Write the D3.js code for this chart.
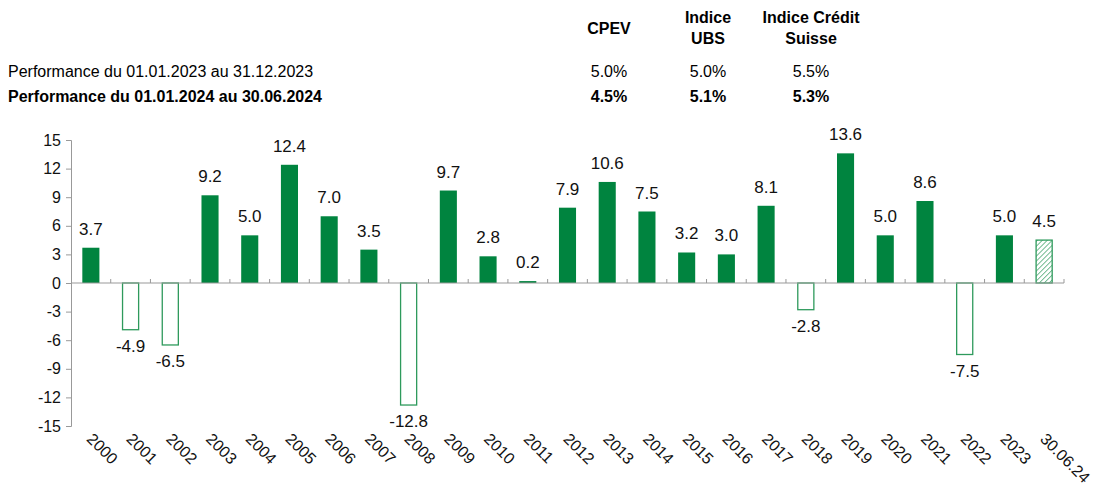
<!DOCTYPE html>
<html>
<head>
<meta charset="utf-8">
<script src="https://cdn.jsdelivr.net/npm/d3@7"></script>
<style>
  body { margin: 0; background: #fff; }
  svg { font-family: "Liberation Sans", Arial, sans-serif; }
</style>
</head>
<body>
<div id="chart"></div>
<script>
var width = 1094, height = 488;

// data
var years = ["2000","2001","2002","2003","2004","2005","2006","2007","2008","2009","2010","2011",
  "2012","2013","2014","2015","2016","2017","2018","2019","2020","2021","2022","2023","30.06.24"];
var perf = [3.7,-4.9,-6.5,9.2,5.0,12.4,7.0,3.5,-12.8,9.7,2.8,0.2,7.9,10.6,7.5,3.2,3.0,8.1,-2.8,13.6,5.0,8.6,-7.5,5.0,4.5];
var yTicks = [15,12,9,6,3,0,-3,-6,-9,-12,-15];

var headCols = [["CPEV"], ["Indice", "UBS"], ["Indice Crédit", "Suisse"]];
var rowLabels = ["Performance du 01.01.2023 au 31.12.2023", "Performance du 01.01.2024 au 30.06.2024"];
var rowValues = [["5.0%","5.0%","5.5%"], ["4.5%","5.1%","5.3%"]];

var green = "#00843f", green2 = "#2e9a5c";
var fs = 16;

var svg = d3.select("#chart").append("svg")
    .attr("width", width)
    .attr("height", height);

var defs = svg.append("defs");
var pat = defs.append("pattern")
    .attr("id", "hatch")
    .attr("patternUnits", "userSpaceOnUse")
    .attr("width", 3.5).attr("height", 3.5)
    .attr("patternTransform", "rotate(45)");
pat.append("rect").attr("width", 3.5).attr("height", 3.5).attr("fill", "#fff");
pat.append("line").attr("x1", 0).attr("y1", 0).attr("x2", 0).attr("y2", 3.5)
    .attr("stroke", green2).attr("stroke-width", 1.3);

// header table
var colX = [609, 708, 811];
headCols.forEach(function(lines, i) {
  var t = svg.append("text")
      .attr("x", colX[i])
      .attr("text-anchor", "middle")
      .attr("font-weight", "bold")
      .attr("font-size", fs);
  lines.forEach(function(l, j) {
    var y = lines.length == 1 ? 34 : 23 + j * 21;
    t.append("tspan").attr("x", colX[i]).attr("y", y).text(l);
  });
});
rowLabels.forEach(function(lab, r) {
  var y = 77 + r * 25;
  var bold = r == 1 ? "bold" : "normal";
  svg.append("text").attr("x", 8).attr("y", y)
      .attr("font-size", fs).attr("font-weight", bold).text(lab);
  rowValues[r].forEach(function(v, i) {
    svg.append("text").attr("x", colX[i]).attr("y", y)
        .attr("text-anchor", "middle").attr("font-size", fs)
        .attr("font-weight", bold).text(v);
  });
});

// scales
var x = d3.scaleBand().domain(years).range([71, 1064]).paddingInner(0.57).paddingOuter(0.285);
var y = d3.scaleLinear().domain([-15, 15]).range([426, 140]);

var axisColor = "#999";

// y axis
var yAxis = svg.append("g").attr("transform", "translate(71,0)")
    .call(d3.axisLeft(y).tickValues(yTicks).tickSize(5).tickPadding(5)
      .tickFormat(function(d) { return String(d); }));
yAxis.select(".domain").attr("stroke", axisColor);
yAxis.selectAll(".tick line").attr("stroke", axisColor);
yAxis.selectAll("text").attr("font-size", fs).attr("fill", "#111")
    .attr("font-family", "Liberation Sans, Arial, sans-serif");

// bars
svg.selectAll("rect.bar")
    .data(perf)
    .enter().append("rect")
    .attr("class", "bar")
    .attr("x", function(d, i) { return x(years[i]) + (d < 0 || i == perf.length - 1 ? 0.5 : 0); })
    .attr("width", function(d, i) { return x.bandwidth() - (d < 0 || i == perf.length - 1 ? 1 : 0); })
    .attr("y", function(d) { return d >= 0 ? y(d) : y(0); })
    .attr("height", function(d) { return Math.abs(y(d) - y(0)); })
    .attr("fill", function(d, i) {
      if (i == perf.length - 1) return "url(#hatch)";
      return d < 0 ? "#fff" : green;
    })
    .attr("stroke", function(d, i) { return (d < 0 || i == perf.length - 1) ? green2 : "none"; })
    .attr("stroke-width", 1.3);

// x axis line and ticks (drawn after bars)
var boundaries = years.map(function(d) { return x(d) - x.step() * x.paddingInner() / 2; });
boundaries.push(1064);
svg.append("line").attr("x1", 71).attr("x2", 1064).attr("y1", y(0)).attr("y2", y(0))
    .attr("stroke", axisColor);
svg.selectAll("line.xtick")
    .data(boundaries.slice(1))
    .enter().append("line")
    .attr("class", "xtick")
    .attr("x1", function(d) { return d; }).attr("x2", function(d) { return d; })
    .attr("y1", y(0)).attr("y2", y(0) - 4)
    .attr("stroke", axisColor);

// value labels
svg.selectAll("text.val")
    .data(perf)
    .enter().append("text")
    .attr("class", "val")
    .attr("x", function(d, i) { return x(years[i]) + x.bandwidth() / 2; })
    .attr("y", function(d) { return d >= 0 ? y(d) - 13 : y(d) + 22; })
    .attr("text-anchor", "middle")
    .attr("font-size", 17)
    .attr("fill", "#111")
    .text(function(d) { return d.toFixed(1); });

// x labels rotated
svg.selectAll("text.xl")
    .data(years)
    .enter().append("text")
    .attr("class", "xl")
    .attr("transform", function(d) {
      return "translate(" + (x(d) + x.bandwidth() / 2 - 5) + ",440) rotate(45)";
    })
    .attr("font-size", fs)
    .attr("fill", "#111")
    .text(function(d) { return d; });
</script>
</body>
</html>
